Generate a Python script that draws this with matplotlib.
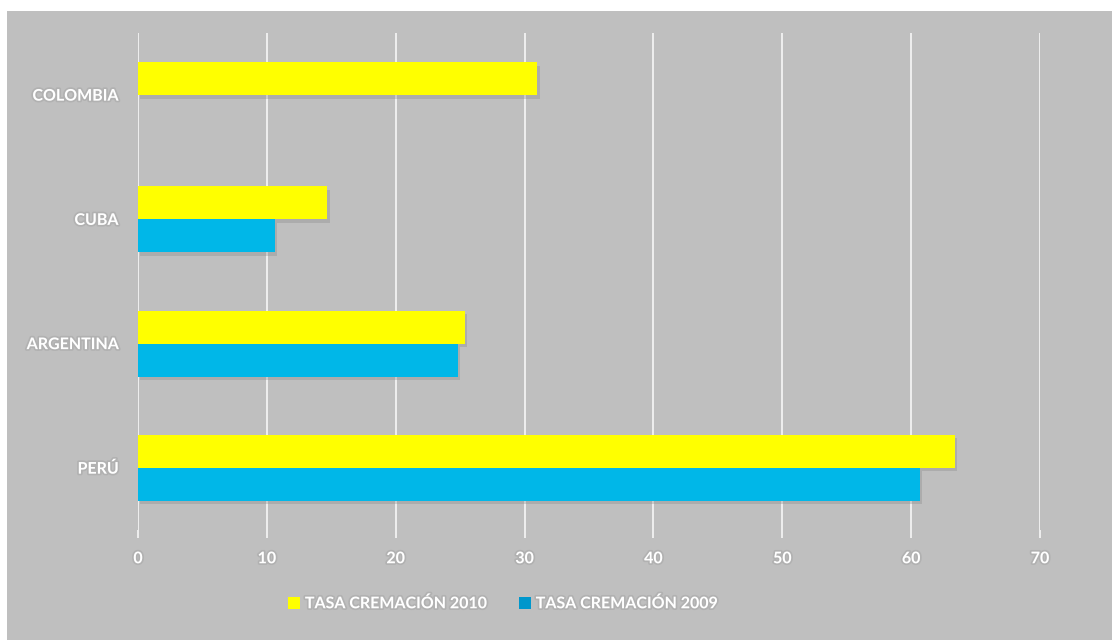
import numpy as np
import matplotlib
matplotlib.use("Agg")
import matplotlib.pyplot as plt
import matplotlib.patheffects as pe
from matplotlib.patches import Rectangle

# data (bottom to top)
countries = ["PERÚ", "ARGENTINA", "CUBA", "COLOMBIA"]
tasa_2010 = [63.4, 25.4, 14.7, 31.0]
tasa_2009 = [60.7, 24.8, 10.6, np.nan]
xticks = [0, 10, 20, 30, 40, 50, 60, 70]

BG = "#bfbfbf"
YELLOW = "#ffff00"
BLUE = "#00b7e8"
LEG_BLUE = "#0097cc"

plt.rcParams["font.family"] = ["Lato", "DejaVu Sans"]

fig = plt.figure(figsize=(11.12, 6.4), dpi=100, facecolor="white")
fig.patches.append(Rectangle((7 / 1112, 0), 1, 1 - 11 / 640, transform=fig.transFigure,
                             facecolor=BG, edgecolor="none", zorder=-10))
ax = fig.add_axes([138 / 1112, 1 - 530 / 640, (1040 - 138) / 1112, 497 / 640])
ax.set_facecolor(BG)
ax.patch.set_alpha(0)

y = np.arange(len(countries))
h = 0.265
shadow = [pe.SimplePatchShadow(offset=(1.5, -2.5), shadow_rgbFace="#8a8a8a", alpha=0.35), pe.Normal()]
b1 = ax.barh(y + h / 2, tasa_2010, height=h, color=YELLOW, zorder=3, label="TASA CREMACIÓN 2010")
b2 = ax.barh(y - h / 2, tasa_2009, height=h, color=BLUE, zorder=3, label="TASA CREMACIÓN 2009")
for b in list(b1) + list(b2):
    b.set_path_effects(shadow)

ax.set_xlim(0, 70)
ax.set_ylim(-0.5, 3.5)
ax.set_xticks(xticks)
ax.set_yticks(y)
ax.set_yticklabels(countries)
ax.grid(axis="x", color="#f2f2f2", linewidth=1.3, zorder=1)
ax.set_axisbelow(True)
for s in ax.spines.values():
    s.set_visible(False)

txt_fx = [pe.withStroke(linewidth=2.5, foreground="#a8a8a8", alpha=0.6)]
ax.tick_params(axis="x", length=6, width=1.3, color="#f2f2f2", pad=10, labelsize=11.5, labelcolor="white")
ax.tick_params(axis="y", length=0, pad=14, labelsize=11.5, labelcolor="white")
for lab in ax.get_xticklabels() + ax.get_yticklabels():
    lab.set_fontweight("bold")
    lab.set_path_effects(txt_fx)

leg = fig.legend(handles=[b1, b2], loc="center", bbox_to_anchor=(503 / 1112, 1 - 604 / 640), ncol=2,
                 frameon=False, handlelength=0.75, handleheight=0.75, handletextpad=0.3,
                 columnspacing=2.0, prop={"weight": "bold", "size": 11.5})
for t in leg.get_texts():
    t.set_color("white")
    t.set_path_effects(txt_fx)
leg.legend_handles[1].set_facecolor(LEG_BLUE)
for hd in leg.legend_handles:
    hd.set_path_effects([])

fig.savefig("out.png", dpi=100, facecolor="white")
